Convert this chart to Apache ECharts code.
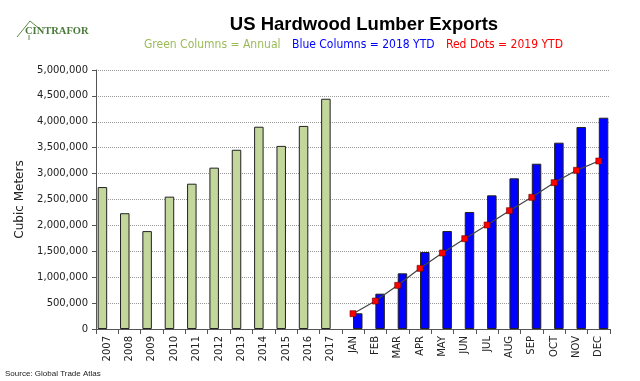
<!DOCTYPE html>
<html><head><meta charset="utf-8">
<script src="https://cdn.jsdelivr.net/npm/echarts@6/dist/echarts.min.js"></script>
<style>html,body{margin:0;padding:0;background:#fff}#c{width:640px;height:381px}</style>
</head><body><div id="c"></div>
<script>
const years = ['2007','2008','2009','2010','2011','2012','2013','2014','2015','2016','2017'];
const months = ['JAN','FEB','MAR','APR','MAY','JUN','JUL','AUG','SEP','OCT','NOV','DEC'];
const annualValues = [2740000,2235000,1890000,2555000,2805000,3115000,3460000,3905000,3535000,3920000,4445000];
const ytd2018Values = [303000,682000,1075000,1486000,1892000,2259000,2580000,2909000,3191000,3597000,3900000,4079000];
const ytd2019Values = [296000,540000,843000,1171000,1467000,1744000,2008000,2284000,2542000,2825000,3063000,3243000];
const yTicks = [0,500000,1000000,1500000,2000000,2500000,3000000,3500000,4000000,4500000,5000000];

const categories = years.concat(months);
const padY = years.map(() => null);
const padM = months.map(() => null);
const annual = annualValues.concat(padM);
const ytd2018 = padY.concat(ytd2018Values);
const ytd2019 = padY.concat(ytd2019Values);

const chart = echarts.init(document.getElementById('c'), null, {renderer:'canvas'});
const font = 'DejaVu Sans';
const sub = '12px "DejaVu Sans Condensed", "DejaVu Sans"';
chart.setOption({
  animation:false,
  backgroundColor:'#fff',
  grid:{left:96,right:30,top:70,bottom:52,containLabel:false},
  title:{text:'US Hardwood Lumber Exports',left:359,textAlign:'center',top:10,
    textStyle:{fontFamily:'Liberation Sans',fontWeight:'bold',fontSize:18.5,color:'#000'}},
  graphic:[
    {type:'text',left:144,top:39,style:{text:'Green Columns = Annual',fill:'#9BBB59',font:sub}},
    {type:'text',left:292,top:39,style:{text:'Blue Columns = 2018 YTD',fill:'#0000FF',font:sub}},
    {type:'text',left:446,top:39,style:{text:'Red Dots = 2019 YTD',fill:'#FF0000',font:sub}},
    {type:'polyline',shape:{points:[[17,37],[30,21],[41,30]]},style:{stroke:'#5a8a48',lineWidth:1,fill:null}},
    {type:'line',shape:{x1:29,y1:35,x2:29,y2:40},style:{stroke:'#5a8a48',lineWidth:1}},
    {type:'text',left:25,top:26,style:{text:'CINTRAFOR',fill:'#4a7a3a',font:'bold 10.5px "Liberation Serif"'}},
    {type:'text',left:5,top:370,style:{text:'Source: Global Trade Atlas',fill:'#222',font:'8px "Liberation Sans"'}}
  ],
  xAxis:{type:'category',data:categories,boundaryGap:true,
    axisLine:{lineStyle:{color:'#555',width:1}},
    axisTick:{show:true,length:5,lineStyle:{color:'#555'},interval:0},
    axisLabel:{rotate:90,interval:0,fontFamily:font,fontSize:10,color:'#222',margin:7},
    splitLine:{show:false}},
  yAxis:{type:'value',min:0,max:5000000,interval:500000,
    name:'Cubic Meters',nameLocation:'middle',nameGap:70,nameRotate:90,
    nameTextStyle:{fontFamily:font,fontSize:12,color:'#222'},
    axisLine:{show:true,lineStyle:{color:'#555',width:1}},
    axisTick:{show:true,length:4,lineStyle:{color:'#555'}},
    axisLabel:{fontFamily:font,fontSize:10,color:'#222',margin:8,
      formatter:v=>v.toLocaleString('en-US')},
    splitLine:{show:true,lineStyle:{color:'#999',type:'dotted',width:1}}},
  series:[
    {type:'bar',name:'Annual',data:annual,barWidth:9.5,barGap:'0%',
      itemStyle:{color:'#C3D69B',borderColor:'#222',borderWidth:1}},
    {type:'bar',name:'2018 YTD',data:ytd2018,barWidth:9.5,barGap:'0%',
      itemStyle:{color:'#0000FF',borderColor:'#222',borderWidth:1}},
    {type:'line',name:'2019 YTD',data:ytd2019,symbol:'rect',symbolSize:6,connectNulls:false,
      lineStyle:{color:'#444',width:1.2},
      itemStyle:{color:'#FF0000',borderColor:'#600',borderWidth:0.6},z:5}
  ]
});
</script></body></html>
